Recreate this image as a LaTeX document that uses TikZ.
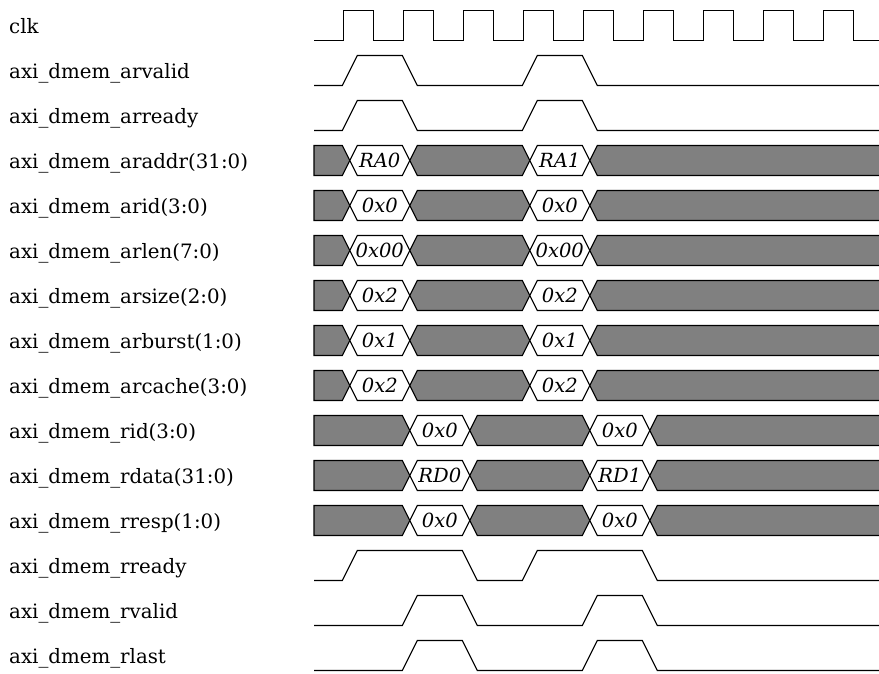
\documentclass[tikz,border=0pt]{standalone}
\usepackage{fontspec}
\setmainfont{DejaVu Serif}
\tikzset{
  sig/.style={draw=black, line width=1.2pt, line join=miter},
  gseg/.style={sig, fill=black!50},
  wseg/.style={sig, fill=white},
  val/.style={anchor=base, inner sep=0pt, font=\fontsize{19.5}{21}\selectfont\itshape},
  lab/.style={anchor=base west, inner sep=0pt, font=\fontsize{19.8}{22}\selectfont}
}
\newcommand\hseg[5]{\draw[#5] (#1,15) -- (#2,0) -- (#3,0) -- (#4,15) -- (#3,30) -- (#2,30) -- cycle;}
\newcommand\arbus[4]{%
\begin{scope}[shift={(0,10.5+45*#1)}]
\hseg{314}{314}{342.3}{349.8}{gseg}
\hseg{349.8}{357.3}{402.3}{409.8}{wseg}
\hseg{409.8}{417.3}{522.3}{529.8}{gseg}
\hseg{529.8}{537.3}{582.3}{589.8}{wseg}
\hseg{589.8}{597.3}{884}{884}{gseg}
\node[val] (#2a) at (379.8,21.5) {#3};
\node[val] (#2b) at (559.8,21.5) {#4};
\end{scope}}
\newcommand\rbus[4]{%
\begin{scope}[shift={(0,10.5+45*#1)}]
\hseg{314}{314}{402.3}{409.8}{gseg}
\hseg{409.8}{417.3}{462.3}{469.8}{wseg}
\hseg{469.8}{477.3}{582.3}{589.8}{gseg}
\hseg{589.8}{597.3}{642.3}{649.8}{wseg}
\hseg{649.8}{657.3}{884}{884}{gseg}
\node[val] (#2a) at (439.8,21.5) {#3};
\node[val] (#2b) at (619.8,21.5) {#4};
\end{scope}}
\begin{document}
\begin{tikzpicture}[x=1pt,y=-1pt]
\useasboundingbox (0,0) rectangle (879,673);
% labels
\foreach \i/\t in {0/clk,1/axi\_dmem\_arvalid,2/axi\_dmem\_arready,3/axi\_dmem\_araddr(31:0),
  4/axi\_dmem\_arid(3:0),5/axi\_dmem\_arlen(7:0),6/axi\_dmem\_arsize(2:0),7/axi\_dmem\_arburst(1:0),
  8/axi\_dmem\_arcache(3:0),9/axi\_dmem\_rid(3:0),10/axi\_dmem\_rdata(31:0),11/axi\_dmem\_rresp(1:0),
  12/axi\_dmem\_rready,13/axi\_dmem\_rvalid,14/axi\_dmem\_rlast}
  \node[lab] (lab\i) at (9,33+45*\i) {\t};
% clock
\begin{scope}[shift={(0,10.5)}]
\draw[sig] (314,30) -- (343.3,30)
  \foreach \k in {0,...,8}{ -- ++(0,-30) -- ++(30,0) -- ++(0,30) -- ++(30,0)};
\end{scope}
% arvalid, arready
\foreach \i in {1,2}{
\begin{scope}[shift={(0,10.5+45*\i)}]
\draw[sig] (314,30) -- (342.3,30) -- (357.3,0) -- (402.3,0) -- (417.3,30) -- (522.3,30)
  -- (537.3,0) -- (582.3,0) -- (597.3,30) -- (884,30);
\end{scope}}
% AR buses
\arbus{3}{araddr}{RA0}{RA1}
\arbus{4}{arid}{0x0}{0x0}
\arbus{5}{arlen}{0x00}{0x00}
\arbus{6}{arsize}{0x2}{0x2}
\arbus{7}{arburst}{0x1}{0x1}
\arbus{8}{arcache}{0x2}{0x2}
% R buses
\rbus{9}{rid}{0x0}{0x0}
\rbus{10}{rdata}{RD0}{RD1}
\rbus{11}{rresp}{0x0}{0x0}
% rready
\begin{scope}[shift={(0,10.5+45*12)}]
\draw[sig] (314,30) -- (342.3,30) -- (357.3,0) -- (462.3,0) -- (477.3,30) -- (522.3,30)
  -- (537.3,0) -- (642.3,0) -- (657.3,30) -- (884,30);
\end{scope}
% rvalid, rlast
\foreach \i in {13,14}{
\begin{scope}[shift={(0,10.5+45*\i)}]
\draw[sig] (314,30) -- (402.3,30) -- (417.3,0) -- (462.3,0) -- (477.3,30) -- (582.3,30)
  -- (597.3,0) -- (642.3,0) -- (657.3,30) -- (884,30);
\end{scope}}
\end{tikzpicture}
\end{document}
